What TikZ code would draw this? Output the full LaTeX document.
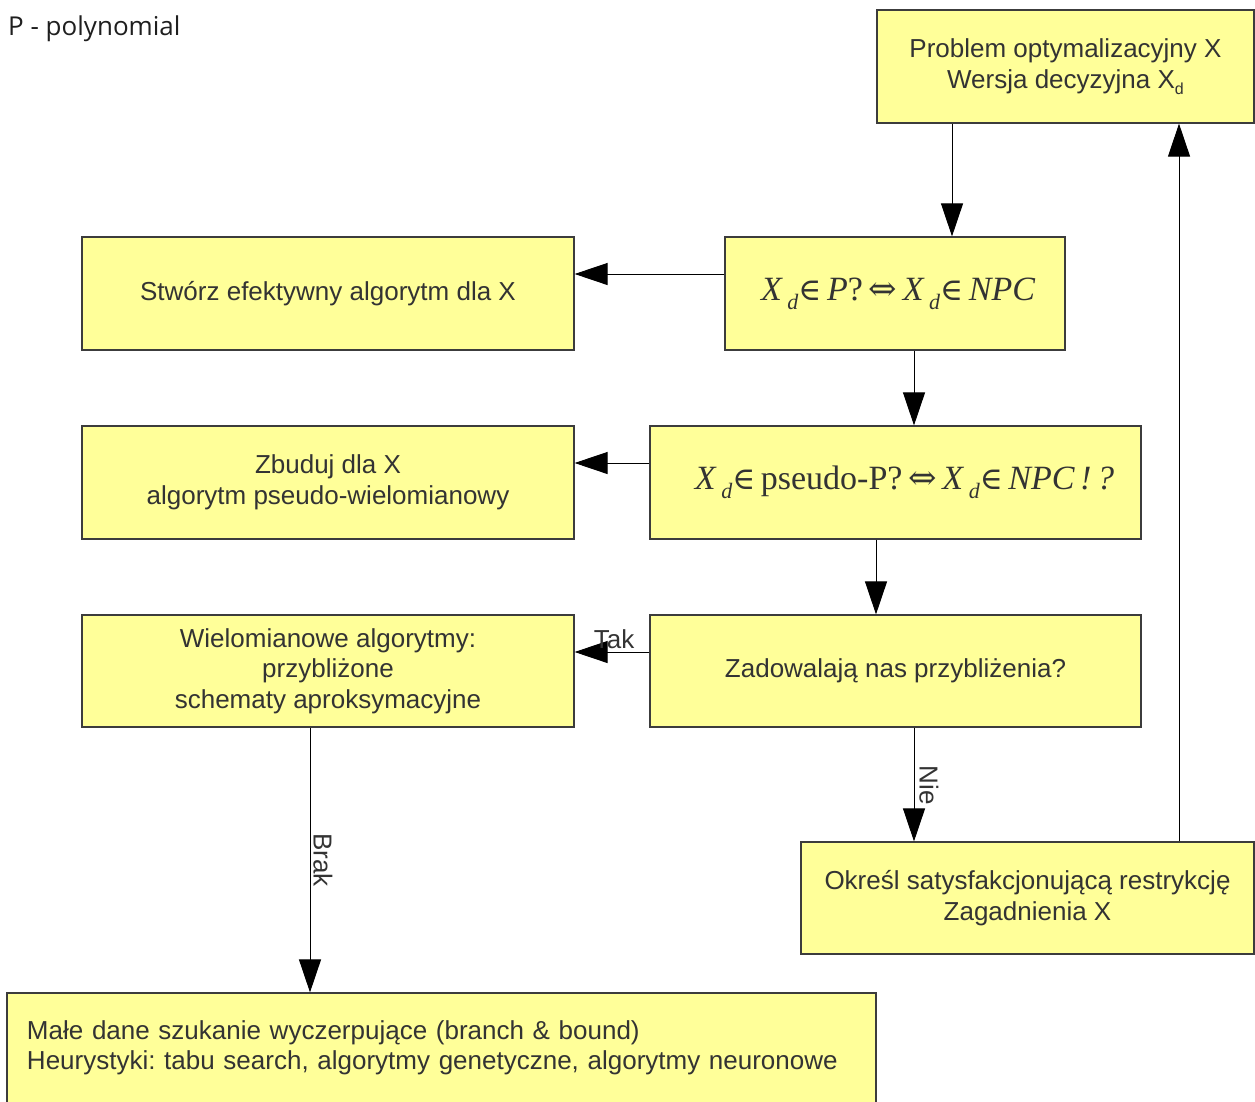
\documentclass[tikz,border=0pt]{standalone}
\usepackage{fontspec}
\setmainfont{Liberation Sans}
\newfontfamily\tms{Liberation Serif}
\newfontfamily\dvs{DejaVu Serif}
\newfontfamily\ttl{Open Sans}
\usetikzlibrary{arrows.meta}
\definecolor{boxfill}{HTML}{FFFF99}
\definecolor{txt}{HTML}{333333}
\definecolor{edgecol}{HTML}{3C3C3C}
\frenchspacing
\newcommand\mX{{\tms\itshape X}}
\newcommand\md{\raisebox{-9pt}{\fontsize{22}{22}\selectfont\tms\itshape d}}
\newcommand\mel{{\fontsize{31}{34}\selectfont\dvs ∈}}
\newcommand\miff{{\fontsize{34}{36}\selectfont\dvs ⇔}}
\tikzset{
 box/.style={draw=edgecol, line width=1.2pt, fill=boxfill, text=txt,
   font=\fontsize{26}{30.5}\selectfont, align=center, inner sep=0pt},
 arr/.style={draw=black, line width=1pt, -{Triangle[length=33pt,width=22pt]}},
 lbl/.style={text=txt, font=\fontsize{26}{30}\selectfont, inner sep=0pt},
}
\begin{document}
\begin{tikzpicture}[x=1pt,y=-1pt]
\useasboundingbox (0,0) rectangle (1255,1101);
\node[anchor=west, text=black!88, font=\ttl\fontsize{26}{30}\selectfont, inner sep=0pt] (title) at (8,29) {P - polynomial};

\node[box, minimum width=377pt, minimum height=113pt] (b1) at (1065.5,66.5)
  {Problem optymalizacyjny X\\Wersja decyzyjna X\raisebox{-6pt}{\fontsize{16}{16}\selectfont d}};
\node[box, minimum width=340pt, minimum height=113pt] (b2) at (895,293.5)
  {\raisebox{-6pt}{\fontsize{34}{36}\selectfont \hspace{6pt}\mX\,\md\mel\,{\tms\itshape P}{\tms ?}\,\miff\,\mX\,\md\mel\,{\tms\itshape NPC}}};
\node[box, minimum width=492pt, minimum height=113pt] (b3) at (328,293.5)
  {\raisebox{-4pt}{Stwórz efektywny algorytm dla X}};
\node[box, minimum width=491pt, minimum height=113pt] (b4) at (895.5,482.5)
  {\raisebox{-5pt}{\fontsize{34}{36}\selectfont \hspace{18pt}\mX\,\md\mel\,{\tms pseudo-P?}\,\miff\,\mX\,\md\mel\,{\tms\itshape NPC\,!\,?}}};
\node[box, minimum width=492pt, minimum height=113pt] (b5) at (328,482.5)
  {Zbuduj dla X\\algorytm pseudo-wielomianowy};
\node[box, minimum width=491pt, minimum height=112pt] (b6) at (895.5,671)
  {\raisebox{-4pt}{Zadowalają nas przybliżenia?}};
\node[box, minimum width=492pt, minimum height=112pt] (b7) at (328,671)
  {Wielomianowe algorytmy:\\przybliżone\\schematy aproksymacyjne};
\node[box, minimum width=453pt, minimum height=112pt] (b8) at (1027.5,898)
  {Określ satysfakcjonującą restrykcję\\Zagadnienia X};
\node[box, minimum width=869pt, minimum height=110pt, align=left, text width=829pt] (b9) at (441.5,1048)
  {Małe dane szukanie wyczerpujące (branch \& bound)\\Heurystyki: tabu search, algorytmy genetyczne, algorytmy neuronowe};

\coordinate (c1) at (952,0);
\coordinate (c2) at (914,0);
\coordinate (c3) at (876,0);
\coordinate (c4) at (310,0);
\coordinate (c5) at (1179,0);
\coordinate (r1) at (0,274);
\coordinate (r2) at (0,463);
\coordinate (r3) at (0,652);

\draw[arr] (b1.south -| c1) -- (b2.north -| c1);
\draw[arr] (b2.west |- r1) -- (b3.east |- r1);
\draw[arr] (b2.south -| c2) -- (b4.north -| c2);
\draw[arr] (b4.west |- r2) -- (b5.east |- r2);
\draw[arr] (b4.south -| c3) -- (b6.north -| c3);
\draw[arr] (b6.west |- r3) -- (b7.east |- r3);
\draw[arr] (b6.south -| c2) -- (b8.north -| c2);
\draw[arr] (b7.south -| c4) -- (b9.north -| c4);
\draw[arr] (b8.north -| c5) -- (b1.south -| c5);

\node[lbl] (tak) at (614,639) {Tak};
\node[lbl, rotate=-90] (nie) at (929,785) {Nie};
\node[lbl, rotate=-90] (brak) at (323,860) {Brak};
\end{tikzpicture}
\end{document}
